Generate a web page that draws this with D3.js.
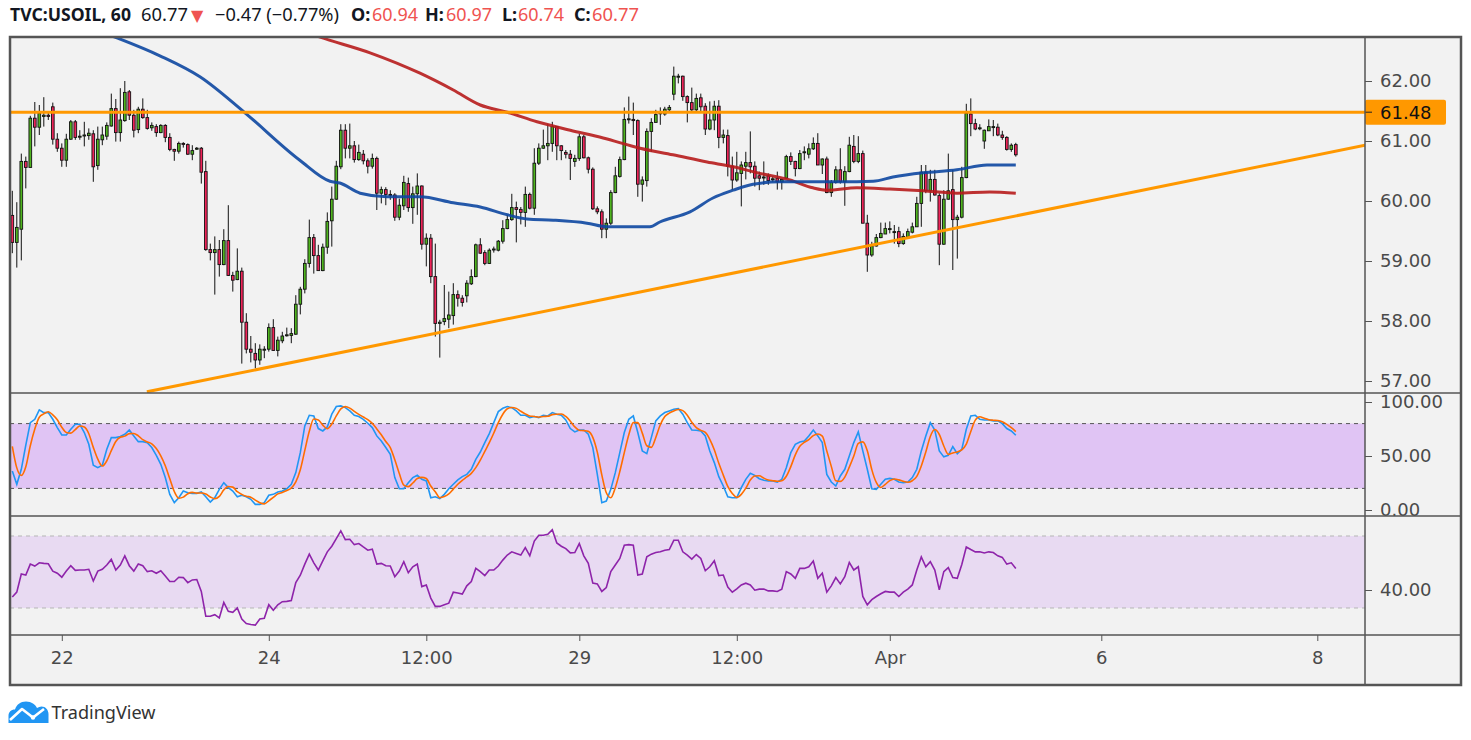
<!DOCTYPE html>
<html>
<head>
<meta charset="utf-8">
<script src="https://cdn.jsdelivr.net/npm/d3@7"></script>
<style>
  html, body { margin: 0; padding: 0; background: #ffffff; }
  svg { display: block; }
</style>
</head>
<body>
<div id="chart"></div>
<script>
// USOIL 1h candles with 2 MAs, stochastic and RSI panes (TradingView look)
var candles = [ // [open, high, low, close]
  [59.76,60.17,59.13,59.31],[59.31,59.98,58.89,59.56],[59.53,60.79,59.01,60.66],[60.66,60.74,60.21,60.56],[60.56,61.42,60.56,61.38],
  [61.38,61.65,60.91,61.23],[61.23,61.60,61.10,61.46],[61.41,61.73,61.24,61.43],[61.43,61.49,61.35,61.41],[61.57,61.64,60.94,61.03],
  [61.03,61.13,60.82,60.88],[60.88,60.96,60.57,60.68],[60.68,61.12,60.57,61.03],[61.03,61.35,61.02,61.32],[61.32,61.35,61.02,61.06],
  [61.07,61.18,61.02,61.08],[61.10,61.32,60.91,61.10],[61.09,61.21,61.02,61.13],[61.12,61.18,60.32,60.57],[60.59,61.24,60.52,61.03],
  [61.02,61.24,60.93,61.10],[61.08,61.31,61.02,61.26],[61.25,61.79,61.24,61.54],[61.54,61.70,60.99,61.14],[61.14,61.88,60.99,61.35],
  [61.34,62.00,61.32,61.81],[61.82,61.85,61.35,61.43],[61.43,61.52,61.06,61.18],[61.19,61.57,61.13,61.53],[61.53,61.71,61.37,61.39],
  [61.39,61.52,61.19,61.21],[61.22,61.31,61.17,61.26],[61.24,61.28,61.07,61.14],[61.14,61.28,61.13,61.26],[61.26,61.28,60.98,61.06],
  [61.06,61.13,60.83,60.86],[60.86,60.87,60.67,60.83],[60.83,60.99,60.79,60.96],[60.96,60.98,60.89,60.95],[60.94,60.96,60.77,60.78],
  [60.78,60.93,60.68,60.84],[60.87,60.90,60.85,60.88],[60.88,60.90,60.29,60.48],[60.49,60.67,59.17,59.19],[59.19,59.29,59.01,59.14],
  [59.14,59.41,58.44,59.19],[59.19,59.35,58.74,58.94],[58.94,59.53,58.93,59.34],[59.34,59.93,58.75,58.76],[58.76,58.82,58.49,58.68],
  [58.69,59.21,58.68,58.83],[58.83,58.89,57.29,57.98],[57.98,58.13,57.46,57.53],[57.53,57.75,57.31,57.48],[57.46,57.63,57.21,57.35],
  [57.35,57.61,57.27,57.53],[57.53,57.58,57.38,57.53],[57.53,57.96,57.49,57.89],[57.89,58.03,57.50,57.51],[57.51,57.74,57.41,57.68],
  [57.67,57.82,57.63,57.75],[57.76,57.89,57.74,57.77],[57.76,57.88,57.63,57.79],[57.78,58.43,57.77,58.28],[58.28,58.57,58.11,58.53],
  [58.53,59.03,58.46,58.96],[58.96,59.69,58.89,59.39],[59.39,59.45,58.79,59.09],[59.09,59.27,58.84,58.84],[58.84,59.29,58.83,59.23],
  [59.23,59.81,59.12,59.66],[59.67,60.24,59.24,60.03],[60.03,60.67,60.02,60.58],[60.57,61.28,60.53,61.18],[61.18,61.28,60.71,60.88],
  [60.88,61.29,60.71,60.92],[60.92,61.00,60.64,60.69],[60.69,60.94,60.67,60.81],[60.78,60.85,60.61,60.67],[60.67,60.71,60.46,60.58],
  [60.58,60.79,60.54,60.71],[60.71,60.74,59.85,60.13],[60.13,60.24,59.96,60.19],[60.19,60.23,59.93,60.11],[60.11,60.18,60.02,60.10],
  [60.10,60.13,59.67,59.73],[59.73,60.04,59.68,59.93],[59.92,60.42,59.85,60.31],[60.29,60.39,59.82,59.89],[59.89,60.24,59.62,60.12],
  [60.12,60.46,59.77,60.25],[60.25,60.26,59.19,59.28],[59.28,59.46,58.91,59.38],[59.38,59.45,58.63,58.74],[58.74,59.29,57.74,57.96],
  [57.96,58.02,57.39,57.98],[57.99,58.60,57.93,58.04],[58.03,58.49,57.88,58.10],[58.09,58.63,57.94,58.44],[58.44,58.51,58.24,58.38],
  [58.38,58.43,58.24,58.31],[58.42,58.68,58.31,58.63],[58.62,58.86,58.60,58.74],[58.74,59.29,58.73,59.27],[59.27,59.38,59.12,59.13],
  [59.14,59.18,58.93,58.96],[58.96,59.21,58.95,59.18],[59.19,59.24,59.14,59.20],[59.18,59.35,59.16,59.33],[59.33,59.68,59.29,59.54],
  [59.54,59.77,59.53,59.69],[59.69,60.12,59.67,59.89],[59.89,59.99,59.31,59.86],[59.86,59.90,59.61,59.81],[59.81,60.24,59.57,60.11],
  [60.11,60.14,59.86,59.88],[59.88,60.88,59.77,60.63],[60.63,60.96,60.60,60.88],[60.88,61.19,60.87,60.92],[60.92,61.28,60.68,60.96],
  [60.96,61.32,60.82,61.24],[61.24,61.25,60.68,60.92],[60.92,60.93,60.68,60.84],[60.81,60.85,60.71,60.78],[60.78,60.85,60.35,60.71],
  [60.66,60.77,60.57,60.71],[60.71,61.12,60.67,61.07],[61.07,61.10,60.71,60.72],[60.72,60.74,60.46,60.53],[60.53,60.56,59.85,59.87],
  [59.87,59.91,59.78,59.82],[59.82,59.86,59.38,59.53],[59.53,59.71,59.38,59.63],[59.63,60.18,59.60,60.14],[60.14,60.57,60.13,60.42],
  [60.41,60.74,60.39,60.69],[60.69,61.56,60.68,61.36],[61.36,61.74,61.29,61.37],[61.36,61.64,61.10,61.34],[61.34,61.36,60.07,60.28],
  [60.28,60.41,59.99,60.35],[60.34,61.21,60.24,61.16],[61.16,61.38,60.82,61.31],[61.31,61.52,61.31,61.44],[61.46,61.56,61.27,61.47],
  [61.45,61.57,61.42,61.53],[61.52,61.60,61.49,61.56],[61.78,62.24,61.68,62.08],[62.08,62.12,61.96,62.08],[62.08,62.09,61.67,61.74],
  [61.74,61.76,61.31,61.64],[61.64,61.89,61.50,61.52],[61.52,61.79,61.49,61.71],[61.72,61.79,61.49,61.57],[61.58,61.63,61.10,61.20],
  [61.20,61.66,61.18,61.35],[61.35,61.67,61.18,61.58],[61.58,61.68,60.88,61.06],[61.06,61.19,60.96,61.10],[61.09,61.19,60.41,60.58],
  [60.58,60.74,60.18,60.35],[60.35,60.82,60.32,60.47],[60.46,60.66,59.91,60.60],[60.58,60.82,60.36,60.64],[60.64,61.16,60.46,60.57],
  [60.58,60.66,60.24,60.38],[60.42,60.49,60.18,60.38],[60.40,60.66,60.27,60.40],[60.42,60.46,60.27,60.34],[60.37,60.41,60.32,60.37],
  [60.38,60.49,60.19,60.32],[60.32,60.37,60.19,60.36],[60.38,60.77,60.37,60.74],[60.74,60.81,60.60,60.66],[60.66,60.67,60.41,60.54],
  [60.54,60.85,60.53,60.79],[60.82,60.91,60.68,60.82],[60.78,60.96,60.71,60.87],[60.87,61.06,60.85,60.96],[60.96,61.13,60.60,60.60],
  [60.60,60.71,60.45,60.70],[60.70,60.74,60.13,60.14],[60.14,60.35,60.07,60.31],[60.31,60.58,60.29,60.52],[60.52,60.88,60.29,60.32],
  [60.32,60.58,59.92,60.49],[60.49,61.07,60.48,60.93],[60.91,61.10,60.63,60.66],[60.66,61.08,60.63,60.79],[60.79,60.84,59.63,59.63],
  [59.63,59.77,58.82,59.10],[59.10,59.32,59.07,59.25],[59.25,59.45,59.24,59.39],[59.39,59.64,59.38,59.46],[59.45,59.64,59.45,59.54],
  [59.54,59.66,59.46,59.54],[59.49,59.60,59.29,59.49],[59.49,59.57,59.23,59.29],[59.29,59.46,59.27,59.41],[59.40,59.54,59.38,59.49],
  [59.48,59.64,59.46,59.57],[59.57,60.07,59.57,59.96],[59.96,60.60,59.57,60.48],[60.48,60.60,60.13,60.17],[60.17,60.52,59.99,60.36],
  [60.36,60.52,60.09,60.10],[60.09,60.13,58.93,59.28],[59.28,60.18,59.27,60.03],[60.03,60.79,60.02,60.17],[60.19,60.52,58.85,59.69],
  [59.69,59.77,59.04,59.73],[59.73,60.57,59.71,60.39],[60.39,61.62,60.38,61.46],[61.45,61.71,61.08,61.29],[61.29,61.37,61.18,61.20],
  [61.22,61.28,61.18,61.22],[61.00,61.19,60.87,61.18],[61.17,61.36,61.17,61.24],[61.24,61.35,61.08,61.24],[61.23,61.29,61.08,61.10],
  [61.10,61.17,61.02,61.06],[61.06,61.08,60.84,60.86],[60.86,60.96,60.82,60.93],[60.94,60.97,60.74,60.77]
];

// moving averages: [bar index, price]
var maBlue = [[18,62.87],[22.2,62.75],[32.8,62.42],[41.7,62.07],[51.7,61.47],[63.9,60.68],[70.6,60.33],[72.8,60.30],
  [77.3,60.13],[83.3,60.07],[90.6,60.07],[98,59.97],[104,59.90],[110,59.77],[114.4,59.70],[120.2,59.68],[127.7,59.63],
  [132.2,59.57],[141.7,59.57],[143.9,59.65],[150.6,59.82],[155.7,60.05],[160.2,60.18],[164.6,60.28],[170.6,60.32],
  [184,60.32],[191.3,60.33],[195.7,60.40],[202.4,60.47],[209.9,60.52],[216.6,60.60],[223,60.60]];
var maRed = [[63,62.87],[68.4,62.73],[79.5,62.47],[90.6,62.13],[98,61.85],[104,61.60],[110,61.48],[116.6,61.32],
  [124,61.18],[131.3,61.05],[139.5,60.88],[146.8,60.77],[154.4,60.65],[160.2,60.57],[165.5,60.47],[172.8,60.35],
  [177.9,60.22],[181.1,60.18],[187.7,60.22],[195,60.20],[202.4,60.17],[209.9,60.13],[217.2,60.15],[223,60.13]];

var hLevel = 61.48;
var trendLine = [[29.9,56.82],[300.6,60.93]];

var stochK = [36.1,23.8,37.7,60,80.9,84,92.7,90.2,90.2,84,
  76.3,69.5,69.5,74.7,79.4,79.4,71.7,60.8,41.4,39.2,
  41.4,56.2,67,67,68,70.1,74.1,68.6,63.3,63.3,
  62.4,57.8,50.6,42.3,30,14.5,6.8,11.4,17.6,16,
  15.4,15.4,16.7,12.3,7.4,11.4,19.1,25.3,20.7,17.6,
  12.3,13.6,12.3,9.9,5.2,5.2,6.8,13.6,14.5,16.7,
  17.6,19.7,23.8,34.6,53.1,77.8,87.7,87.1,75.4,73.2,
  76.9,88.7,95.8,96.4,94.8,91.7,87.7,86.5,84,80.3,
  76.3,68.6,63.9,57.8,51.6,30,19.7,19.7,25.3,30,
  32.1,28.4,26.9,11.4,12.3,10.5,14.5,19.7,23.8,27.8,
  30.9,33,37.7,46.9,53.7,62.4,70.7,80.9,91.1,94.2,
  95.8,94.8,91.7,87.7,87.7,85.6,86.5,85.6,87.7,87.1,
  90.2,88.7,87.7,83.4,75.4,72.3,74.1,74.1,70.1,57.8,
  33,6.8,8.3,19.1,34.6,53.1,71.7,84,87.1,71.7,
  54.7,52.2,67,82.5,87.1,90.2,91.7,93.3,93.9,88.7,
  80.9,74.1,73.8,73.2,68.6,54.7,43.9,30.9,22.2,12.3,
  11.4,11.4,20.7,28.4,34,32.1,29,27.5,26.9,26.9,
  25.9,28.4,39.2,53.1,60.8,63,63.9,68.6,74.1,68.6,
  62.4,33,25.9,22.2,31.5,37.7,50,62.4,72.3,54.7,
  37.7,19.7,19.1,23.8,28.4,29.3,28.4,25.9,25.3,25.9,
  30,37.7,54.7,68.6,80.9,74.1,54.7,49.2,50.6,58.7,
  52.2,56.2,74.7,87.1,87.7,84,83.4,83.4,82.5,82.5,
  80,75.4,73.2,69.2];
var stochD = [59,39,32,40,59.5,75,85.9,89,91,88.1,
  83.5,76.6,71.8,71.2,74.5,77.8,76.8,70.6,58,47.1,
  40.7,45.6,54.9,63.4,67.3,68.4,70.7,70.9,68.7,65.1,
  63,61.2,56.9,50.2,41,28.9,17.1,10.9,11.9,15,
  16.3,15.6,15.8,14.8,12.1,10.4,12.6,18.6,21.7,21.2,
  16.9,14.5,12.7,11.9,9.1,6.8,5.7,8.5,11.6,14.9,
  16.3,18,20.4,26,37.2,55.2,72.9,84.2,83.4,78.6,
  75.2,79.6,87.1,93.6,95.7,94.3,91.4,88.6,86.1,83.6,
  80.2,75.1,69.6,63.4,57.8,46.5,33.8,23.1,21.6,25,
  29.1,30.2,29.1,22.2,16.9,11.4,12.4,14.9,19.3,23.8,
  27.5,30.6,33.9,39.2,46.1,54.3,62.3,71.3,80.9,88.7,
  93.7,94.9,94.1,91.4,89,87,86.6,85.9,86.6,86.8,
  88.3,88.7,88.9,86.6,82.2,77,73.9,73.5,72.8,67.3,
  53.6,32.5,16,11.4,20.7,35.6,53.1,69.6,80.9,80.9,
  71.2,59.5,58,67.2,78.9,86.6,89.7,91.7,93,92,
  87.8,81.2,76.3,73.7,71.9,65.5,55.7,43.2,32.3,21.8,
  15.3,11.7,14.5,20.2,27.7,31.5,31.7,29.5,27.8,27.1,
  26.6,27.1,31.2,40.2,51,59,62.6,65.2,68.9,70.4,
  68.4,54.7,40.4,27,26.5,30.5,39.7,50,61.6,63.1,
  54.9,37.4,25.5,20.9,23.8,27.2,28.7,27.9,26.5,25.7,
  27.1,31.2,40.8,53.7,68.1,74.5,69.9,59.3,51.5,52.8,
  53.8,55.7,61,72.7,83.2,86.3,85,83.6,83.1,82.8,
  81.7,79.3,76.2,72.6];
var rsi = [36.1,38.8,48.9,48.3,54.4,53.3,55.1,54.8,54.6,50.5,
  49.3,47.1,50.5,53.5,50.9,51.1,51.1,51.5,45,50.5,
  51.5,53.9,57,51.1,53.9,59,53.5,50.5,54.4,53.5,
  50.2,50.7,49.3,50.7,47.8,44.7,44.7,47.1,46.9,44.1,
  45.6,45.8,39.2,25.4,25.4,26.3,24.5,33.1,28.2,27.6,
  30,23.9,21.4,20.8,20.5,23.9,24.3,31.8,28.7,31.8,
  33.5,33.7,34.2,44.1,48.2,54.4,59.9,55.1,51.1,56.2,
  61.2,64.3,68.5,72.8,68,68.2,65.2,65.8,63.9,62.1,
  62.7,54.4,54.8,53.5,53.3,47.4,50.5,55.7,49.6,52.9,
  54.4,41.9,42.8,35.5,30.9,30.9,31.8,32.7,38.8,38.3,
  37.7,42.3,44.7,52,50.2,48,51.1,51.1,53.3,56.6,
  59.4,61.2,60.3,59.4,63.6,59,67.2,70.4,70.4,70.9,
  73.5,66.1,64.3,63,60.6,60.8,65.8,59,54.8,43.8,
  43.4,39.2,41.4,50.2,53.9,57.5,64.9,65.2,64.9,48.3,
  48.9,58.4,59.9,60.8,61.2,62.1,62.5,67.6,67.6,61.2,
  59.4,57.2,59.7,57.5,50.7,52.9,56.2,48,48.3,41.6,
  38.8,40.6,42.8,43.8,42.8,39.9,40.5,40.5,39.5,39.5,
  39.2,40.5,50.2,48.9,46.5,52,52,52.9,56.1,46.5,
  49.3,38.8,42.3,46.9,43.4,47.4,55.3,51.1,52.9,36.4,
  31.8,34.6,36.4,37.9,39.2,38.8,38.8,36.4,38.8,40.5,
  42.8,51.1,58.4,52.9,55.7,51.1,40.1,50.2,52.4,46.9,
  46.5,54.2,63.9,62.5,61.2,61.2,60.6,61.2,60.8,59,
  58.1,54.4,55.1,52];

var priceTicks = [57, 58, 59, 60, 61, 62];
var stochTicks = [0, 50, 100];
var rsiTicks = [40];
var timeTicks = [11, 57, 92, 126, 161, 195, 242, 290];
var timeLabels = ['22', '24', '12:00', '29', '12:00', 'Apr', '6', '8'];

(function(){
  var W = 1471, H = 740;
  var L = { left: 10, axisX: 1365, right: 1461, top: 37, mainB: 393, stochB: 516, rsiB: 635, bottom: 685 };
  var axisFont = 'DejaVu Sans, Verdana, sans-serif';
  var uiFont = '"Noto Sans", "Open Sans", Arial, sans-serif';
  var lineCol = '#555555', txtCol = '#4a4a4a';

  var svg = d3.select('#chart').append('svg').attr('width', W).attr('height', H);

  var x = d3.scaleLinear().domain([0, candles.length - 1]).range([12.3, 1015.8]);
  var yP = d3.scaleLinear().domain([57, 62]).range([381, 81]);
  var yS = d3.scaleLinear().domain([0, 100]).range([510, 402]);
  var yR = d3.scaleLinear().domain([30, 70]).range([608, 536]);

  // pane background
  svg.append('rect').attr('x', L.left).attr('y', L.top).attr('width', L.right - L.left).attr('height', L.bottom - L.top)
    .attr('fill', '#f2f2f2');

  var defs = svg.append('defs');
  function clip(id, y0, y1){
    defs.append('clipPath').attr('id', id).append('rect')
      .attr('x', L.left).attr('y', y0).attr('width', L.axisX - L.left).attr('height', y1 - y0);
  }
  clip('c-main', L.top, L.mainB);
  clip('c-stoch', L.mainB, L.stochB);
  clip('c-rsi', L.stochB, L.rsiB);

  // ---- main pane
  var gm = svg.append('g').attr('clip-path', 'url(#c-main)');

  var bw = 2.7;
  var cg = gm.selectAll('.candle').data(candles).enter().append('g').attr('class', 'candle');
  cg.append('line')
    .attr('x1', function(d, i){ return x(i); }).attr('x2', function(d, i){ return x(i); })
    .attr('y1', function(d){ return yP(d[1]); }).attr('y2', function(d){ return yP(d[2]); })
    .attr('stroke', '#111').attr('stroke-width', 1);
  cg.append('rect')
    .attr('x', function(d, i){ return x(i) - bw / 2; })
    .attr('y', function(d){ return yP(Math.max(d[0], d[3])); })
    .attr('width', bw)
    .attr('height', function(d){ return Math.max(1, Math.abs(yP(d[0]) - yP(d[3]))); })
    .attr('fill', function(d){ return d[3] >= d[0] ? '#4fb41f' : '#ee2459'; })
    .attr('stroke', '#111').attr('stroke-width', 0.9);

  var maLine = d3.line().curve(d3.curveMonotoneX)
    .x(function(d){ return x(d[0]); }).y(function(d){ return yP(d[1]); });
  gm.append('path').datum(maRed).attr('d', maLine).attr('fill', 'none')
    .attr('stroke', '#b71c1c').attr('stroke-width', 3).attr('stroke-opacity', 0.9);
  gm.append('path').datum(maBlue).attr('d', maLine).attr('fill', 'none')
    .attr('stroke', '#0d47a1').attr('stroke-width', 3).attr('stroke-opacity', 0.9);

  gm.append('line').attr('x1', L.left).attr('x2', L.axisX).attr('y1', yP(hLevel)).attr('y2', yP(hLevel))
    .attr('stroke', '#ff9800').attr('stroke-width', 3);
  gm.append('line')
    .attr('x1', x(trendLine[0][0])).attr('y1', yP(trendLine[0][1]))
    .attr('x2', x(trendLine[1][0])).attr('y2', yP(trendLine[1][1]))
    .attr('stroke', '#ff9800').attr('stroke-width', 3);

  // ---- stochastic pane
  var gs = svg.append('g').attr('clip-path', 'url(#c-stoch)');
  gs.append('rect').attr('x', L.left).attr('width', L.axisX - L.left)
    .attr('y', yS(80)).attr('height', yS(20) - yS(80)).attr('fill', '#e0c4f4');
  [80, 20].forEach(function(v){
    gs.append('line').attr('x1', L.left).attr('x2', L.axisX).attr('y1', yS(v)).attr('y2', yS(v))
      .attr('stroke', '#555').attr('stroke-width', 1).attr('stroke-dasharray', '4,4');
  });
  var sLine = d3.line().x(function(d, i){ return x(i); }).y(function(d){ return yS(d); });
  gs.append('path').datum(stochK).attr('d', sLine).attr('fill', 'none').attr('stroke', '#2196f3').attr('stroke-width', 1.6);
  gs.append('path').datum(stochD).attr('d', sLine.curve(d3.curveMonotoneX)).attr('fill', 'none').attr('stroke', '#ff6d00').attr('stroke-width', 1.6);

  // ---- RSI pane
  var gr = svg.append('g').attr('clip-path', 'url(#c-rsi)');
  gr.append('rect').attr('x', L.left).attr('width', L.axisX - L.left)
    .attr('y', yR(70)).attr('height', yR(30) - yR(70)).attr('fill', '#e8daf2');
  [70, 30].forEach(function(v){
    gr.append('line').attr('x1', L.left).attr('x2', L.axisX).attr('y1', yR(v)).attr('y2', yR(v))
      .attr('stroke', '#b5b5b5').attr('stroke-width', 1).attr('stroke-dasharray', '4,4');
  });
  var rLine = d3.line().x(function(d, i){ return x(i); }).y(function(d){ return yR(d); });
  gr.append('path').datum(rsi).attr('d', rLine).attr('fill', 'none').attr('stroke', '#8e24aa').attr('stroke-width', 1.6);

  // ---- axes
  function styleAxis(g, size){
    g.select('.domain').remove();
    g.selectAll('line').attr('stroke', lineCol);
    g.selectAll('text').style('font-family', axisFont).style('font-size', size + 'px').attr('fill', txtCol);
  }
  var f2 = d3.format('.2f');
  styleAxis(svg.append('g').attr('transform', 'translate(' + L.axisX + ',0)')
    .call(d3.axisRight(yP).tickValues(priceTicks).tickFormat(f2).tickSize(7).tickPadding(8)), 18);
  styleAxis(svg.append('g').attr('transform', 'translate(' + L.axisX + ',0)')
    .call(d3.axisRight(yS).tickValues(stochTicks).tickFormat(f2).tickSize(7).tickPadding(8)), 18);
  styleAxis(svg.append('g').attr('transform', 'translate(' + L.axisX + ',0)')
    .call(d3.axisRight(yR).tickValues(rsiTicks).tickFormat(f2).tickSize(7).tickPadding(8)), 18);
  styleAxis(svg.append('g').attr('transform', 'translate(0,' + L.rsiB + ')')
    .call(d3.axisBottom(x).tickValues(timeTicks).tickFormat(function(d, i){ return timeLabels[i]; }).tickSize(6).tickPadding(10)), 18);

  // level label on the price axis
  var lg = svg.append('g');
  lg.append('rect').attr('x', L.axisX).attr('y', yP(hLevel) - 12.5).attr('width', 81).attr('height', 25)
    .attr('rx', 2).attr('fill', '#ff9800');
  lg.append('line').attr('x1', L.axisX).attr('x2', L.axisX + 7).attr('y1', yP(hLevel)).attr('y2', yP(hLevel))
    .attr('stroke', '#222');
  lg.append('text').attr('x', L.axisX + 15).attr('y', yP(hLevel)).attr('dy', '0.35em')
    .style('font-family', axisFont).style('font-size', '18px').attr('fill', '#111').text(f2(hLevel));

  // separators and frame
  [L.mainB, L.stochB, L.rsiB].forEach(function(yy){
    svg.append('line').attr('x1', L.left).attr('x2', L.right).attr('y1', yy).attr('y2', yy)
      .attr('stroke', lineCol).attr('stroke-width', 1.5);
  });
  svg.append('line').attr('x1', L.axisX).attr('x2', L.axisX).attr('y1', L.top).attr('y2', L.bottom)
    .attr('stroke', lineCol).attr('stroke-width', 1.5);
  svg.append('rect').attr('x', L.left).attr('y', L.top).attr('width', L.right - L.left).attr('height', L.bottom - L.top)
    .attr('fill', 'none').attr('stroke', lineCol).attr('stroke-width', 2.5);

  // ---- header legend
  var last = candles[candles.length - 1];
  var prev = candles[candles.length - 2];
  var chg = last[3] - prev[3] - 0.63;
  var hdr = [
    { t: 'TVC:USOIL, 60', x: 10, w: 121, b: true, c: '#131722' },
    { t: f2(last[3]), x: 141, w: 47, c: '#131722' },
    { t: '\u25BC', x: 191, c: '#ef5350', f: axisFont, s: 16 },
    { t: '\u22120.47 (\u22120.77%)', x: 215, w: 124, c: '#131722' },
    { t: 'O:', x: 351, b: true, c: '#131722' }, { t: f2(last[0]), x: 372, w: 46, c: '#ef5350' },
    { t: 'H:', x: 425, b: true, c: '#131722' }, { t: f2(last[1]), x: 446, w: 46, c: '#ef5350' },
    { t: 'L:', x: 502, b: true, c: '#131722' }, { t: f2(last[2]), x: 518, w: 46, c: '#ef5350' },
    { t: 'C:', x: 574, b: true, c: '#131722' }, { t: f2(last[3]), x: 592, w: 47, c: '#ef5350' }
  ];
  hdr.forEach(function(h){
    var t = svg.append('text').attr('x', h.x).attr('y', 21)
      .style('font-family', h.f || uiFont).style('font-size', (h.s || 18) + 'px')
      .style('font-weight', h.b ? '700' : '400').attr('fill', h.c).text(h.t);
    if (h.w) t.attr('textLength', h.w).attr('lengthAdjust', 'spacingAndGlyphs');
  });

  // ---- TradingView logo
  var logo = svg.append('g');
  logo.append('path')
    .attr('d', 'M8.5,723 L8.5,716 C8.5,712 11,709.5 15,709.5 C16.5,704.5 20.5,701.5 26,701.5 C31.5,701.5 35.5,704.5 37,708 C38.5,707 40,706.5 41.5,706.5 C45.5,706.5 48.5,710 48.5,714 L48.5,723 Z')
    .attr('fill', '#2196f3');
  logo.append('polyline').attr('points', '10,720 22,709 33,717.5 44,709')
    .attr('fill', 'none').attr('stroke', '#ffffff').attr('stroke-width', 2.6).attr('stroke-linejoin', 'round');
  logo.append('circle').attr('cx', 33).attr('cy', 717.5).attr('r', 2.2).attr('fill', '#ffffff');
  logo.append('text').attr('x', 51.5).attr('y', 719).style('font-family', uiFont).style('font-size', '18px')
    .attr('fill', '#333').attr('textLength', 104).attr('lengthAdjust', 'spacingAndGlyphs').text('TradingView');
})();
</script>
</body>
</html>
